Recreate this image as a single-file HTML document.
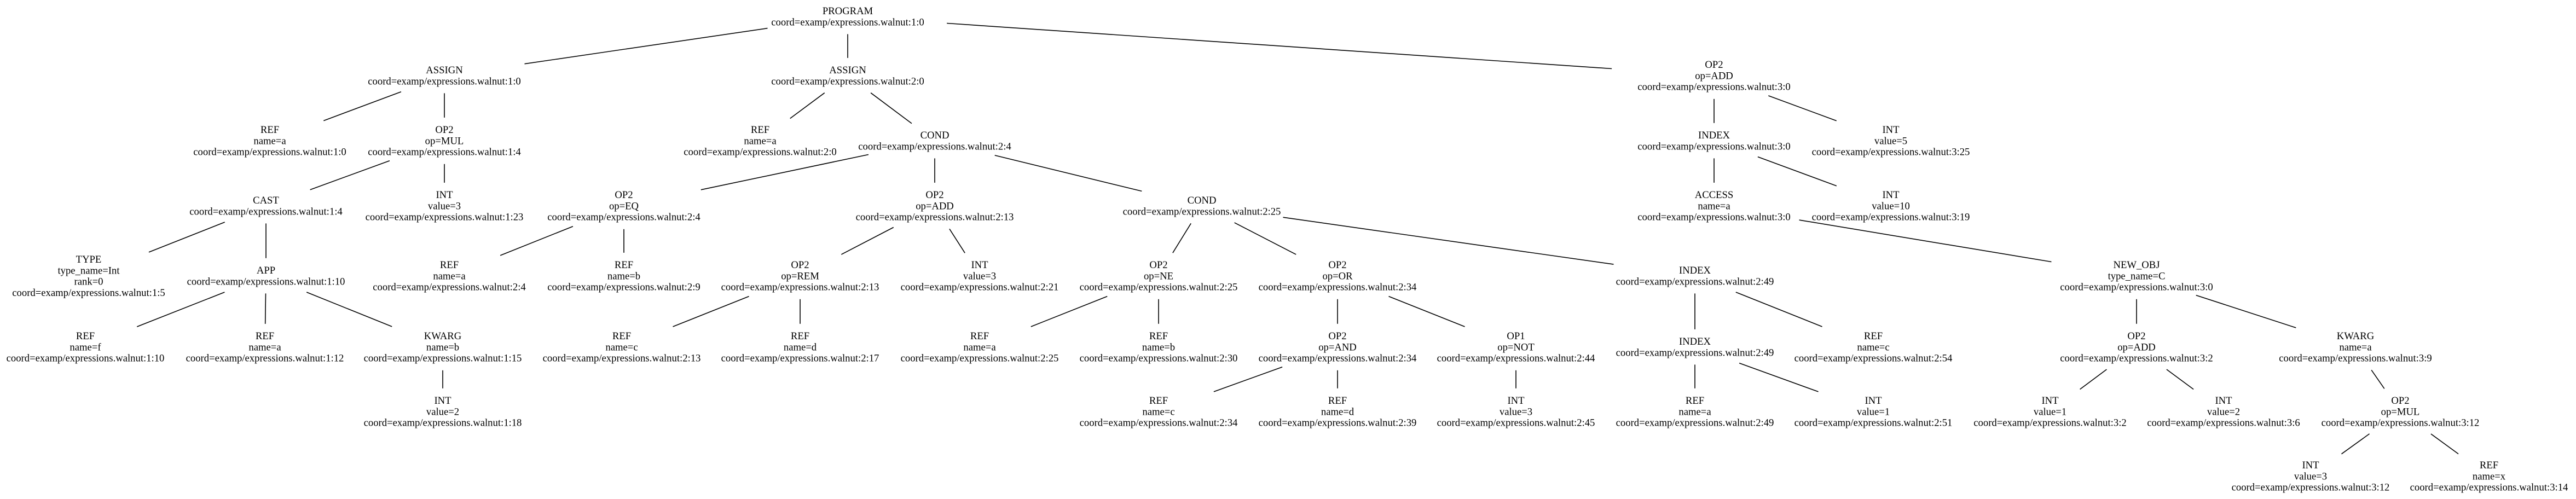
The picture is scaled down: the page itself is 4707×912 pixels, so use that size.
<!DOCTYPE html>
<html><head><meta charset="utf-8"><style>
html,body{margin:0;padding:0;background:#fff;}
svg{display:block;}
text{font-family:"Liberation Serif",serif;font-size:18.67px;fill:#000;text-anchor:middle;}
</style></head><body>
<svg id="g" width="4707" height="912" xmlns="http://www.w3.org/2000/svg">
<g id="edges" stroke="#000" stroke-width="1.6" fill="none"></g>
<g id="labels">
<text x="1549" y="26">PROGRAM</text><text x="1549" y="46.3">coord=examp/expressions.walnut:1:0</text>
<text x="812" y="134">ASSIGN</text><text x="812" y="154.3">coord=examp/expressions.walnut:1:0</text>
<text x="493" y="243">REF</text><text x="493" y="263.3">name=a</text><text x="493" y="283.6">coord=examp/expressions.walnut:1:0</text>
<text x="812" y="243">OP2</text><text x="812" y="263.3">op=MUL</text><text x="812" y="283.6">coord=examp/expressions.walnut:1:4</text>
<text x="486" y="372">CAST</text><text x="486" y="392.3">coord=examp/expressions.walnut:1:4</text>
<text x="812" y="362">INT</text><text x="812" y="382.3">value=3</text><text x="812" y="402.6">coord=examp/expressions.walnut:1:23</text>
<text x="162" y="480">TYPE</text><text x="162" y="500.3">type_name=Int</text><text x="162" y="520.6">rank=0</text><text x="162" y="540.9">coord=examp/expressions.walnut:1:5</text>
<text x="486" y="500">APP</text><text x="486" y="520.3">coord=examp/expressions.walnut:1:10</text>
<text x="156" y="620">REF</text><text x="156" y="640.3">name=f</text><text x="156" y="660.6">coord=examp/expressions.walnut:1:10</text>
<text x="484" y="620">REF</text><text x="484" y="640.3">name=a</text><text x="484" y="660.6">coord=examp/expressions.walnut:1:12</text>
<text x="809" y="620">KWARG</text><text x="809" y="640.3">name=b</text><text x="809" y="660.6">coord=examp/expressions.walnut:1:15</text>
<text x="809" y="738">INT</text><text x="809" y="758.3">value=2</text><text x="809" y="778.6">coord=examp/expressions.walnut:1:18</text>
<text x="1549" y="134">ASSIGN</text><text x="1549" y="154.3">coord=examp/expressions.walnut:2:0</text>
<text x="1389" y="243">REF</text><text x="1389" y="263.3">name=a</text><text x="1389" y="283.6">coord=examp/expressions.walnut:2:0</text>
<text x="1708" y="253">COND</text><text x="1708" y="273.3">coord=examp/expressions.walnut:2:4</text>
<text x="1140" y="362">OP2</text><text x="1140" y="382.3">op=EQ</text><text x="1140" y="402.6">coord=examp/expressions.walnut:2:4</text>
<text x="821" y="490">REF</text><text x="821" y="510.3">name=a</text><text x="821" y="530.6">coord=examp/expressions.walnut:2:4</text>
<text x="1140" y="490">REF</text><text x="1140" y="510.3">name=b</text><text x="1140" y="530.6">coord=examp/expressions.walnut:2:9</text>
<text x="1708" y="362">OP2</text><text x="1708" y="382.3">op=ADD</text><text x="1708" y="402.6">coord=examp/expressions.walnut:2:13</text>
<text x="1462" y="490">OP2</text><text x="1462" y="510.3">op=REM</text><text x="1462" y="530.6">coord=examp/expressions.walnut:2:13</text>
<text x="1136" y="620">REF</text><text x="1136" y="640.3">name=c</text><text x="1136" y="660.6">coord=examp/expressions.walnut:2:13</text>
<text x="1462" y="620">REF</text><text x="1462" y="640.3">name=d</text><text x="1462" y="660.6">coord=examp/expressions.walnut:2:17</text>
<text x="1790" y="490">INT</text><text x="1790" y="510.3">value=3</text><text x="1790" y="530.6">coord=examp/expressions.walnut:2:21</text>
<text x="2196" y="372">COND</text><text x="2196" y="392.3">coord=examp/expressions.walnut:2:25</text>
<text x="2117" y="490">OP2</text><text x="2117" y="510.3">op=NE</text><text x="2117" y="530.6">coord=examp/expressions.walnut:2:25</text>
<text x="1790" y="620">REF</text><text x="1790" y="640.3">name=a</text><text x="1790" y="660.6">coord=examp/expressions.walnut:2:25</text>
<text x="2117" y="620">REF</text><text x="2117" y="640.3">name=b</text><text x="2117" y="660.6">coord=examp/expressions.walnut:2:30</text>
<text x="2444" y="490">OP2</text><text x="2444" y="510.3">op=OR</text><text x="2444" y="530.6">coord=examp/expressions.walnut:2:34</text>
<text x="2444" y="620">OP2</text><text x="2444" y="640.3">op=AND</text><text x="2444" y="660.6">coord=examp/expressions.walnut:2:34</text>
<text x="2117" y="738">REF</text><text x="2117" y="758.3">name=c</text><text x="2117" y="778.6">coord=examp/expressions.walnut:2:34</text>
<text x="2444" y="738">REF</text><text x="2444" y="758.3">name=d</text><text x="2444" y="778.6">coord=examp/expressions.walnut:2:39</text>
<text x="2770" y="620">OP1</text><text x="2770" y="640.3">op=NOT</text><text x="2770" y="660.6">coord=examp/expressions.walnut:2:44</text>
<text x="2770" y="738">INT</text><text x="2770" y="758.3">value=3</text><text x="2770" y="778.6">coord=examp/expressions.walnut:2:45</text>
<text x="3097" y="500">INDEX</text><text x="3097" y="520.3">coord=examp/expressions.walnut:2:49</text>
<text x="3097" y="630">INDEX</text><text x="3097" y="650.3">coord=examp/expressions.walnut:2:49</text>
<text x="3097" y="738">REF</text><text x="3097" y="758.3">name=a</text><text x="3097" y="778.6">coord=examp/expressions.walnut:2:49</text>
<text x="3423" y="738">INT</text><text x="3423" y="758.3">value=1</text><text x="3423" y="778.6">coord=examp/expressions.walnut:2:51</text>
<text x="3423" y="620">REF</text><text x="3423" y="640.3">name=c</text><text x="3423" y="660.6">coord=examp/expressions.walnut:2:54</text>
<text x="3132" y="124">OP2</text><text x="3132" y="144.3">op=ADD</text><text x="3132" y="164.6">coord=examp/expressions.walnut:3:0</text>
<text x="3132" y="253">INDEX</text><text x="3132" y="273.3">coord=examp/expressions.walnut:3:0</text>
<text x="3132" y="362">ACCESS</text><text x="3132" y="382.3">name=a</text><text x="3132" y="402.6">coord=examp/expressions.walnut:3:0</text>
<text x="3455" y="243">INT</text><text x="3455" y="263.3">value=5</text><text x="3455" y="283.6">coord=examp/expressions.walnut:3:25</text>
<text x="3455" y="362">INT</text><text x="3455" y="382.3">value=10</text><text x="3455" y="402.6">coord=examp/expressions.walnut:3:19</text>
<text x="3904" y="490">NEW_OBJ</text><text x="3904" y="510.3">type_name=C</text><text x="3904" y="530.6">coord=examp/expressions.walnut:3:0</text>
<text x="3904" y="620">OP2</text><text x="3904" y="640.3">op=ADD</text><text x="3904" y="660.6">coord=examp/expressions.walnut:3:2</text>
<text x="3746" y="738">INT</text><text x="3746" y="758.3">value=1</text><text x="3746" y="778.6">coord=examp/expressions.walnut:3:2</text>
<text x="4063" y="738">INT</text><text x="4063" y="758.3">value=2</text><text x="4063" y="778.6">coord=examp/expressions.walnut:3:6</text>
<text x="4304" y="620">KWARG</text><text x="4304" y="640.3">name=a</text><text x="4304" y="660.6">coord=examp/expressions.walnut:3:9</text>
<text x="4386" y="738">OP2</text><text x="4386" y="758.3">op=MUL</text><text x="4386" y="778.6">coord=examp/expressions.walnut:3:12</text>
<text x="4222" y="856">INT</text><text x="4222" y="876.3">value=3</text><text x="4222" y="896.6">coord=examp/expressions.walnut:3:12</text>
<text x="4548" y="856">REF</text><text x="4548" y="876.3">name=x</text><text x="4548" y="896.6">coord=examp/expressions.walnut:3:14</text>
</g>
</svg>
<script>
// nodes: name: [cx, firstLineY, lineCount]
var N={
PROG:[1549,20,2],AS1:[812,128,2],REFa10:[493,237,3],MUL:[812,237,3],CAST:[486,366,2],INT123:[812,356,3],
TYPE:[162,474,4],APP:[486,494,2],REFf:[156,614,3],REFa112:[484,614,3],KWb:[809,614,3],INT2:[809,732,3],
AS2:[1549,128,2],REFa20:[1389,237,3],C24:[1708,247,2],EQ:[1140,356,3],REFa24:[821,484,3],REFb29:[1140,484,3],
ADD213:[1708,356,3],REM:[1462,484,3],REFc213:[1136,614,3],REFd217:[1462,614,3],INT221:[1790,484,3],
C225:[2196,366,2],NE:[2117,484,3],REFa225:[1790,614,3],REFb230:[2117,614,3],OR:[2444,484,3],AND:[2444,614,3],
REFc234:[2117,732,3],REFd239:[2444,732,3],NOT:[2770,614,3],INT245:[2770,732,3],IX249:[3097,494,2],IX249b:[3097,624,2],
REFa249:[3097,732,3],INT251:[3423,732,3],REFc254:[3423,614,3],ADD30:[3132,118,3],IX30:[3132,247,2],ACC:[3132,356,3],
INT5:[3455,237,3],INT10:[3455,356,3],NEW:[3904,484,3],ADD32:[3904,614,3],INT132:[3746,732,3],INT236:[4063,732,3],
KWa:[4304,614,3],MUL312:[4386,732,3],INT312:[4222,850,3],REFx:[4548,850,3]};
var E=[["PROG","AS1"],["PROG","AS2"],["PROG","ADD30"],["AS1","REFa10"],["AS1","MUL"],["MUL","CAST"],["MUL","INT123"],
["CAST","TYPE"],["CAST","APP"],["APP","REFf"],["APP","REFa112"],["APP","KWb"],["KWb","INT2"],["AS2","REFa20"],["AS2","C24"],
["C24","EQ"],["C24","ADD213"],["C24","C225"],["EQ","REFa24"],["EQ","REFb29"],["ADD213","REM"],["ADD213","INT221"],
["REM","REFc213"],["REM","REFd217"],["C225","NE"],["C225","OR"],["C225","IX249"],["NE","REFa225"],["NE","REFb230"],
["OR","AND"],["OR","NOT"],["AND","REFc234"],["AND","REFd239"],["NOT","INT245"],["IX249","IX249b"],["IX249","REFc254"],
["IX249b","REFa249"],["IX249b","INT251"],["ADD30","IX30"],["ADD30","INT5"],["IX30","ACC"],["IX30","INT10"],["ACC","NEW"],
["NEW","ADD32"],["NEW","KWa"],["ADD32","INT132"],["ADD32","INT236"],["KWa","MUL312"],["MUL312","INT312"],["MUL312","REFx"]];
function geo(n){var d=N[n];return {x:d[0],y:d[1]+(d[2]-1)*10.15,a:196,b:d[2]*10.15+12};}
function clip(g,dx,dy){var t=1/Math.sqrt((dx*dx)/(g.a*g.a)+(dy*dy)/(g.b*g.b));return [g.x+dx*t,g.y+dy*t];}
var s="";
E.forEach(function(e){var p=geo(e[0]),c=geo(e[1]);var dx=c.x-p.x,dy=c.y-p.y;
var p1=clip(p,dx,dy),p2=clip(c,-dx,-dy);
s+='<line x1="'+p1[0].toFixed(1)+'" y1="'+p1[1].toFixed(1)+'" x2="'+p2[0].toFixed(1)+'" y2="'+p2[1].toFixed(1)+'"/>';});
document.getElementById("edges").innerHTML=s;
</script>
</body></html>
